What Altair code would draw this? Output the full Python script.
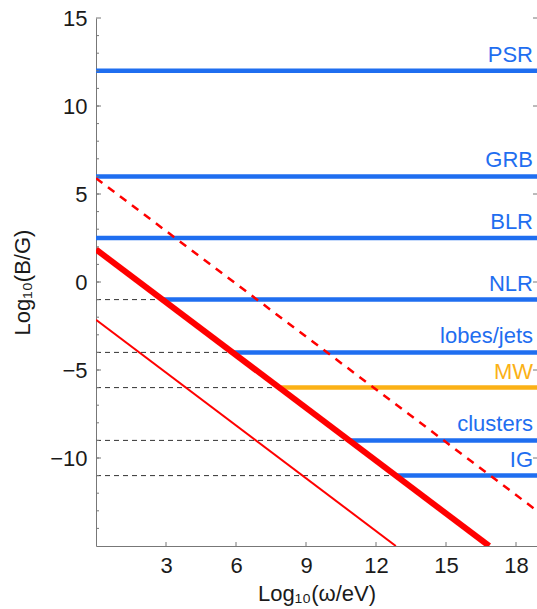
import altair as alt
import pandas as pd

# ---- data ----
sources = ["PSR", "GRB", "BLR", "NLR", "lobes/jets", "MW", "clusters", "IG"]
log_b = [12, 6, 2.5, -1, -4, -6, -9, -11]
start_omega = [0, 0, 0, 2.85, 5.85, 7.85, 10.85, 12.85]
source_colors = ["#1f6ef0", "#1f6ef0", "#1f6ef0", "#1f6ef0", "#1f6ef0",
                 "#fbb116", "#1f6ef0", "#1f6ef0"]

line_names = ["thick", "dashed", "thin"]
line_x0 = [0, 0, 0]
line_y0 = [1.85, 5.9, -2.15]
line_x1 = [16.85, 18.9, 12.85]
line_y1 = [-15, -13.0, -15]

x_ticks = [3, 6, 9, 12, 15, 18]
y_ticks = [-10, -5, 0, 5, 10, 15]
y_minor = list(range(-14, 15))

X_MIN, X_MAX = 0, 18.9
Y_MIN, Y_MAX = -15, 15
W, H = 441, 528
FONT = "Liberation Sans"

src = pd.DataFrame({"source": sources, "logb": log_b, "start": start_omega,
                    "color": source_colors, "x0": [X_MIN] * len(sources),
                    "x1": [X_MAX] * len(sources)})
lines = pd.DataFrame({"name": line_names, "x0": line_x0, "y0": line_y0,
                      "x1": line_x1, "y1": line_y1})
yt = pd.DataFrame({"v": y_ticks})
ym = pd.DataFrame({"v": y_minor})
xt = pd.DataFrame({"v": x_ticks})

xs = alt.Scale(domain=[X_MIN, X_MAX], nice=False, zero=False)
ys = alt.Scale(domain=[Y_MIN, Y_MAX], nice=False, zero=False)

x_axis = alt.Axis(values=x_ticks, title="Log₁₀(ω/eV)", ticks=False, grid=False,
                  labelFlush=False, labelOverlap=False, labelPadding=9,
                  titlePadding=7)
y_axis = alt.Axis(values=y_ticks, title="Log₁₀(B/G)", ticks=False, grid=False,
                  labelFlush=False, labelOverlap=False, labelPadding=9,
                  titlePadding=15)


def X(f):
    return alt.X(f, type="quantitative", scale=xs, axis=x_axis)


def Y(f):
    return alt.Y(f, type="quantitative", scale=ys, axis=y_axis)


guides = alt.Chart(src).transform_filter("datum.start > 0").mark_rule(
    color="#333333", strokeWidth=1, strokeDash=[5, 4]
).encode(x=X("x0"), x2="start:Q", y=Y("logb"))

src_lines = alt.Chart(src).mark_rule(strokeWidth=4.5).encode(
    x=X("start"), x2="x1:Q", y=Y("logb"),
    color=alt.Color("color:N", scale=None)
)


def red(name, **kw):
    return alt.Chart(lines).transform_filter(
        alt.datum.name == name
    ).mark_rule(color="#ff0000", clip=True, **kw).encode(
        x=X("x0"), x2="x1:Q", y=Y("y0"), y2="y1:Q"
    )


thick = red("thick", strokeWidth=6)
dashed = red("dashed", strokeWidth=2.5, strokeDash=[8, 7])
thin = red("thin", strokeWidth=2)

labels = alt.Chart(src).mark_text(
    align="right", baseline="middle", dy=-16, fontSize=22, font=FONT
).encode(
    x=alt.value(W - 4), y=Y("logb"), text="source:N",
    color=alt.Color("color:N", scale=None)
)

tick_style = dict(color="#777777", strokeWidth=1)
y_major_l = alt.Chart(yt).mark_rule(**tick_style).encode(
    y=Y("v"), x=alt.value(0), x2=alt.value(5))
y_minor_l = alt.Chart(ym).mark_rule(**tick_style).encode(
    y=Y("v"), x=alt.value(0), x2=alt.value(3))
y_major_r = alt.Chart(yt).mark_rule(**tick_style).encode(
    y=Y("v"), x=alt.value(W - 4), x2=alt.value(W))
x_major = alt.Chart(xt).mark_rule(**tick_style).encode(
    x=X("v"), y=alt.value(H), y2=alt.value(H - 4))

chart = alt.layer(
    guides, src_lines, thin, dashed, thick, labels,
    y_major_l, y_minor_l, y_major_r, x_major
).properties(
    width=W, height=H,
    autosize=alt.AutoSizeParams(type="none"),
    padding={"left": 96, "top": 18, "right": 0, "bottom": 63},
    background="white"
).configure_view(stroke=None).configure_axis(
    domainColor="#777777", domainWidth=1,
    labelFont=FONT, labelFontSize=22, labelColor="#1a1a1a",
    titleFont=FONT, titleFontSize=22, titleFontWeight="normal",
    titleColor="#1a1a1a"
)

chart.save("out.html", embed_options={"renderer": "svg", "actions": False})
